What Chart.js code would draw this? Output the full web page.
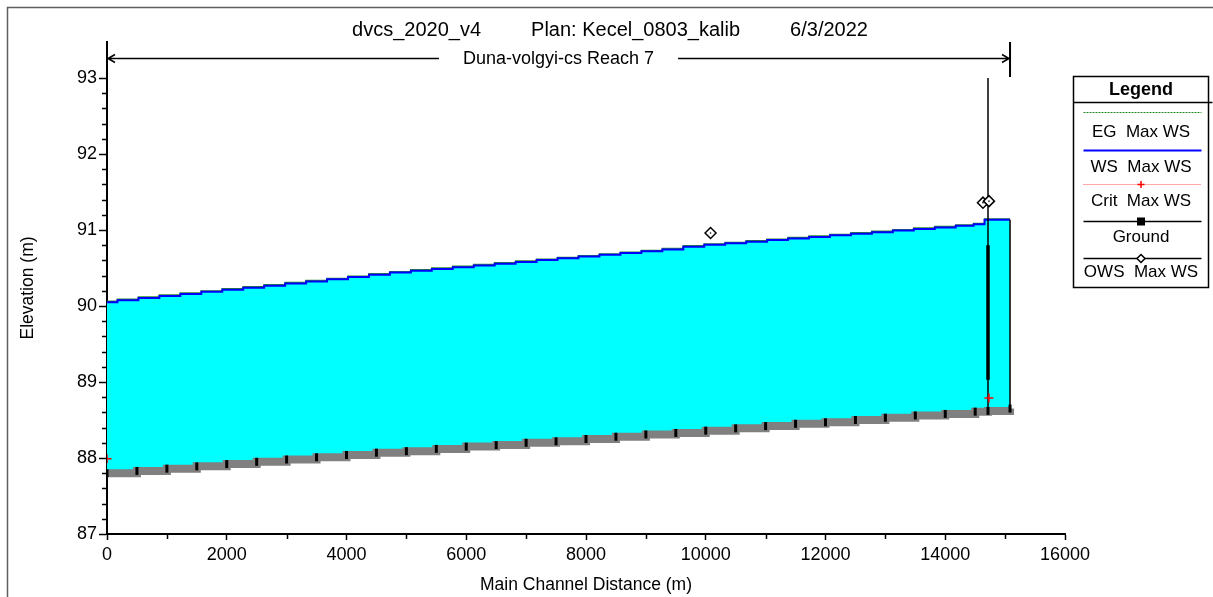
<!DOCTYPE html>
<html>
<head>
<meta charset="utf-8">
<script src="https://cdn.jsdelivr.net/npm/chart.js@4.4.1/dist/chart.umd.min.js"></script>
<style>
html,body{margin:0;padding:0;background:#fff;overflow:hidden}
#wrap{width:1213px;height:597px}
</style>
</head>
<body>
<div id="wrap"><canvas id="c" width="1213" height="597"></canvas></div>
<script>
// ---------- data ----------
const chartTitle = 'dvcs_2020_v4         Plan: Kecel_0803_kalib         6/3/2022';
const reachLabel = 'Duna-volgyi-cs Reach 7';
const xAxisTitle = 'Main Channel Distance (m)';
const yAxisTitle = 'Elevation (m)';

const xTicks = [0, 2000, 4000, 6000, 8000, 10000, 12000, 14000, 16000];
const yTicks = [87, 88, 89, 90, 91, 92, 93];

// water surface (WS Max WS) and energy grade (EG Max WS)
const wsDist = [0, 350, 700, 1050, 1400, 1750, 2100, 2450, 2800, 3150, 3500, 3850, 4200, 4550, 4900,
  5250, 5600, 5950, 6300, 6650, 7000, 7350, 7700, 8050, 8400, 8750, 9100, 9450, 9800, 10150,
  10500, 10850, 11200, 11550, 11900, 12250, 12600, 12950, 13300, 13650, 14000, 14350, 14600, 14714, 15082];
const wsElev = [90.050, 90.077, 90.105, 90.132, 90.159, 90.187, 90.214, 90.241, 90.268, 90.296, 90.323, 90.351, 90.381, 90.411, 90.440,
  90.464, 90.487, 90.510, 90.534, 90.557, 90.580, 90.604, 90.627, 90.650, 90.673, 90.697, 90.720, 90.745, 90.780, 90.805,
  90.825, 90.846, 90.868, 90.888, 90.909, 90.930, 90.951, 90.972, 90.993, 91.013, 91.034, 91.055, 91.075, 91.135, 91.135];
const egElev = [90.062, 90.089, 90.117, 90.144, 90.171, 90.199, 90.226, 90.253, 90.280, 90.308, 90.335, 90.363, 90.393, 90.423, 90.452,
  90.476, 90.499, 90.522, 90.546, 90.569, 90.592, 90.616, 90.639, 90.662, 90.685, 90.709, 90.732, 90.757, 90.792, 90.817,
  90.837, 90.858, 90.880, 90.900, 90.921, 90.942, 90.963, 90.984, 91.005, 91.025, 91.046, 91.067, 91.087, 91.145, 91.145];

// ground profile
const groundDist = [0, 500, 1000, 1500, 2000, 2500, 3000, 3500, 4000, 4500, 5000, 5500, 6000, 6500, 7000, 7500,
  8000, 8500, 9000, 9500, 10000, 10500, 11000, 11500, 12000, 12500, 13000, 13500, 14000, 14500, 14714, 15082];
const groundElev = [87.80, 87.83, 87.86, 87.89, 87.92, 87.95, 87.98, 88.01, 88.04, 88.07, 88.09, 88.12, 88.15, 88.17, 88.20, 88.22,
  88.25, 88.28, 88.31, 88.33, 88.36, 88.39, 88.42, 88.45, 88.47, 88.50, 88.53, 88.56, 88.58, 88.61, 88.62, 88.65];

// critical depth and observed WS points
const critDist = [0, 14730];
const critElev = [87.99, 88.79];
const owsDist = [10080, 14630, 14730];
const owsElev = [90.96, 91.36, 91.38];

// inline structure and reach end
const structDist = [14714, 14714];
const structElev = [93.0, 88.62];
const gateDist = [14714, 14714];
const gateElev = [89.03, 90.80];
const endDist = [15082, 15082];
const endElev = [91.135, 88.65];
const reachStart = 0, reachEnd = 15082;

// ---------- chart ----------
const FONT = '"Liberation Sans", Arial, sans-serif';
const pts = (xs, ys) => xs.map((x, i) => ({x: x, y: ys[i]}));

const legendEntries = [
  {text: 'EG  Max WS', color: '#1f8a1f', width: 1, dash: [2, 1], marker: null},
  {text: 'WS  Max WS', color: '#0000ff', width: 2, dash: [], marker: null},
  {text: 'Crit  Max WS', color: '#ff5050', width: 1, dash: [1, 1], marker: 'cross'},
  {text: 'Ground', color: '#000', width: 1.5, dash: [], marker: 'square'},
  {text: 'OWS  Max WS', color: '#000', width: 1.5, dash: [], marker: 'diamond'}
];

const decor = {
  id: 'decor',
  beforeDraw(chart) {
    const ctx = chart.ctx;
    ctx.save();
    ctx.fillStyle = '#fff';
    ctx.fillRect(0, 0, chart.width, chart.height);
    ctx.strokeStyle = '#5e5e5e';
    ctx.lineWidth = 1.5;
    ctx.beginPath();
    ctx.moveTo(7.5, chart.height);
    ctx.lineTo(7.5, 7.5);
    ctx.lineTo(chart.width, 7.5);
    ctx.stroke();
    ctx.restore();
  },
  afterDraw(chart) {
    const ctx = chart.ctx;
    const xs = chart.scales.x, ys = chart.scales.y;
    const area = chart.chartArea;
    ctx.save();
    ctx.strokeStyle = '#000';
    ctx.lineWidth = 1.5;
    // minor ticks
    ctx.beginPath();
    for (let v = 1000; v < 16000; v += 2000) {
      const px = Math.round(xs.getPixelForValue(v)) + 0.5;
      ctx.moveTo(px, area.bottom); ctx.lineTo(px, area.bottom + 5);
    }
    for (let i = 0; i <= 30; i++) {
      if (i % 5 === 0) continue;
      const py = Math.round(ys.getPixelForValue(87 + i * 0.2)) + 0.5;
      ctx.moveTo(area.left - 5, py); ctx.lineTo(area.left, py);
    }
    ctx.stroke();

    // reach annotation
    const x0 = xs.getPixelForValue(reachStart), x1 = xs.getPixelForValue(reachEnd);
    const ry = Math.round(area.top + 16) + 0.5;
    ctx.font = '18px ' + FONT;
    const tw = ctx.measureText(reachLabel).width;
    const mid = (x0 + x1) / 2;
    const gap = tw / 2 + 24;
    ctx.beginPath();
    ctx.moveTo(x0, ry); ctx.lineTo(mid - gap, ry);
    ctx.moveTo(mid + gap, ry); ctx.lineTo(x1, ry);
    ctx.moveTo(x0 + 8, ry - 4); ctx.lineTo(x0 + 1, ry); ctx.lineTo(x0 + 8, ry + 4);
    ctx.moveTo(x1 - 8, ry - 4); ctx.lineTo(x1 - 1, ry); ctx.lineTo(x1 - 8, ry + 4);
    ctx.stroke();
    ctx.lineWidth = 2;
    ctx.beginPath();
    ctx.moveTo(x1, area.top); ctx.lineTo(x1, ys.getPixelForValue(93) - 1);
    ctx.stroke();
    ctx.fillStyle = '#000';
    ctx.textAlign = 'center';
    ctx.textBaseline = 'middle';
    ctx.fillText(reachLabel, mid, ry + 1);

    // legend box
    const bx = area.right + 8.5, by = area.top + 34.5, bw = 135, bh = 211;
    const cx = bx + bw / 2;
    ctx.lineWidth = 1.5;
    ctx.strokeStyle = '#000';
    ctx.strokeRect(bx, by, bw, bh);
    ctx.beginPath();
    ctx.moveTo(bx, by + 26); ctx.lineTo(bx + bw + 4, by + 26);
    ctx.stroke();
    ctx.font = 'bold 18px ' + FONT;
    ctx.fillText('Legend', cx, by + 14);
    ctx.font = '17px ' + FONT;
    const lineY = [35, 73, 107, 144, 181];
    const textY = [56, 91, 125, 161, 196];
    legendEntries.forEach((e, i) => {
      const ly = Math.round(by + lineY[i]) + 0.5;
      ctx.save();
      ctx.strokeStyle = e.color;
      ctx.lineWidth = e.width;
      ctx.setLineDash(e.dash);
      ctx.beginPath();
      ctx.moveTo(bx + 10, ly); ctx.lineTo(bx + 128, ly);
      ctx.stroke();
      ctx.setLineDash([]);
      if (e.marker === 'cross') {
        ctx.strokeStyle = '#ff0000'; ctx.lineWidth = 1.5;
        ctx.beginPath();
        ctx.moveTo(cx - 3.5, ly); ctx.lineTo(cx + 3.5, ly);
        ctx.moveTo(cx, ly - 3.5); ctx.lineTo(cx, ly + 3.5);
        ctx.stroke();
      } else if (e.marker === 'square') {
        ctx.fillStyle = '#000';
        ctx.fillRect(cx - 4, ly - 4, 8, 8);
      } else if (e.marker === 'diamond') {
        ctx.fillStyle = '#fff'; ctx.strokeStyle = '#000'; ctx.lineWidth = 1.5;
        ctx.beginPath();
        ctx.moveTo(cx, ly - 4); ctx.lineTo(cx + 4, ly); ctx.lineTo(cx, ly + 4); ctx.lineTo(cx - 4, ly); ctx.closePath();
        ctx.fill(); ctx.stroke();
      }
      ctx.restore();
      ctx.fillStyle = '#000';
      ctx.fillText(e.text, cx, by + textY[i]);
    });
    ctx.restore();
  }
};

const cfg = {
  type: 'scatter',
  data: {
    datasets: [
      {label: 'OWS dot', data: pts(owsDist, owsElev), showLine: false, pointStyle: 'circle', pointRadius: 0.8,
        pointBackgroundColor: '#000', pointBorderColor: '#000', pointBorderWidth: 0},
      {label: 'OWS  Max WS', data: pts(owsDist, owsElev), showLine: false, pointStyle: 'rectRot', pointRadius: 5.5,
        pointBackgroundColor: '#fff', pointBorderColor: '#000', pointBorderWidth: 1.5},
      {label: 'Crit  Max WS', data: pts(critDist, critElev), showLine: false, pointStyle: 'cross', pointRadius: 4.5,
        pointBorderColor: '#ff0000', pointBackgroundColor: '#ff0000', pointBorderWidth: 1.5},
      {label: 'gate', data: pts(gateDist, gateElev), showLine: true, borderColor: '#000', borderWidth: 3.5,
        borderCapStyle: 'butt', pointRadius: 0},
      {label: 'structure', data: pts(structDist, structElev), showLine: true, borderColor: '#000', borderWidth: 1.5, pointRadius: 0},
      {label: 'end', data: pts(endDist, endElev), showLine: true, borderColor: '#000', borderWidth: 1.5, pointRadius: 0},
      {label: 'Ground', data: pts(groundDist, groundElev), showLine: true, stepped: true, borderColor: '#808080',
        borderWidth: 8, borderCapStyle: 'butt', pointStyle: 'line', pointRotation: 90, pointRadius: 4,
        pointBorderColor: '#000', pointBackgroundColor: '#000', pointBorderWidth: 3},
      {label: 'WS  Max WS', data: pts(wsDist, wsElev), showLine: true, stepped: 'middle', borderColor: '#0000ff',
        borderWidth: 2, pointRadius: 0, fill: {target: 6, above: '#00ffff', below: '#00ffff'}, backgroundColor: '#00ffff'},
      {label: 'EG  Max WS', data: pts(wsDist, egElev), showLine: true, stepped: 'middle', borderColor: '#2e8b2e',
        borderWidth: 1.5, pointRadius: 0}
    ]
  },
  options: {
    responsive: false,
    animation: false,
    devicePixelRatio: 1,
    layout: {padding: {left: 7, right: 0, top: 0, bottom: 0}},
    plugins: {
      legend: {display: false},
      tooltip: {enabled: false},
      title: {display: true, text: chartTitle, color: '#000', font: {family: FONT, size: 20, weight: 'normal'},
        padding: {top: 18, bottom: 0}}
    },
    scales: {
      x: {
        type: 'linear', min: 0, max: 16000,
        afterBuildTicks: s => { s.ticks = xTicks.map(v => ({value: v})); },
        afterFit: s => { s.height = 63; },
        ticks: {color: '#000', font: {family: FONT, size: 18}, padding: 4, maxRotation: 0, autoSkip: false,
          callback: v => String(v)},
        grid: {drawOnChartArea: false, drawTicks: true, tickLength: 6, tickColor: '#000', tickWidth: 1.5},
        border: {display: true, color: '#000', width: 2},
        title: {display: true, text: xAxisTitle, color: '#000', font: {family: FONT, size: 17.5}, padding: {top: 0, bottom: 1}}
      },
      y: {
        type: 'linear', position: 'left', min: 87, max: 93.474,
        afterBuildTicks: s => { s.ticks = yTicks.map(v => ({value: v})); },
        afterFit: s => { s.width = 100; },
        ticks: {color: '#000', font: {family: FONT, size: 18}, padding: 2, autoSkip: false, callback: v => String(v)},
        grid: {drawOnChartArea: false, drawTicks: true, tickLength: 8, tickColor: '#000', tickWidth: 1.5},
        border: {display: true, color: '#000', width: 2},
        title: {display: true, text: yAxisTitle, color: '#000', font: {family: FONT, size: 17.5}, padding: {top: 10.5, bottom: 0}}
      },
      yR: {
        type: 'linear', position: 'right', display: true,
        afterFit: s => { s.width = 148; },
        grid: {display: false, drawTicks: false},
        ticks: {display: false},
        border: {display: false}
      }
    }
  },
  plugins: [decor]
};

new Chart(document.getElementById('c'), cfg);
</script>
</body>
</html>
